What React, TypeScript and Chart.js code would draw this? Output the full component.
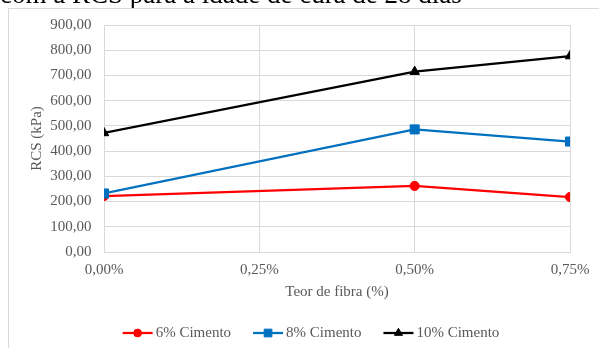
import React, { useEffect, useRef } from "react";
import { Chart, registerables } from "chart.js";
import { drawPoint } from "chart.js/helpers";

Chart.register(...registerables);

// Fibre content (%) and compressive strength (kPa) at 28 days of curing
const fiberContent = [0, 0.5, 0.75];
const xTickValues = [0, 0.25, 0.5, 0.75];
const cement6 = [222, 262, 218];
const cement8 = [232, 486, 438];
const cement10 = [472, 715, 777];
const seriesLabels = ["6% Cimento", "8% Cimento", "10% Cimento"];
const headingText = "com a RCS para a idade de cura de 28 dias";
const xAxisTitle = "Teor de fibra (%)";
const yAxisTitle = "RCS (kPa)";

const SERIF = '"Liberation Serif", "Times New Roman", serif';
const TEXT_GRAY = "#595959";
const GRID_GRAY = "#d9d9d9";

const toPoints = (ys: number[]) => fiberContent.map((x, i) => ({ x, y: ys[i] }));
const comma = (v: number) => v.toFixed(2).replace(".", ",");

// Heading line above the chart box, plus the box outline
const framePlugin = {
  id: "frame",
  beforeDraw(chart: any) {
    const ctx = chart.ctx as CanvasRenderingContext2D;
    ctx.save();
    ctx.fillStyle = "#000000";
    ctx.font = `27px ${SERIF}`;
    ctx.textBaseline = "alphabetic";
    ctx.textAlign = "left";
    ctx.fillText(headingText, 0, 3);
    ctx.strokeStyle = GRID_GRAY;
    ctx.lineWidth = 1;
    ctx.strokeRect(8.5, 8.5, chart.width + 20, chart.height + 20);
    ctx.restore();
  },
};

// Legend entries drawn as a short line with the series marker in the middle
const lineMarkerLegend = {
  id: "lineMarkerLegend",
  afterDraw(chart: any) {
    const ctx = chart.ctx as CanvasRenderingContext2D;
    ctx.save();
    ctx.font = `15px ${SERIF}`;
    const lineLen = 30;
    const textGap = 3;
    const itemGap = 22;
    const items = chart.data.datasets.map((ds: any) => ({
      ds,
      w: lineLen + textGap + ctx.measureText(ds.label).width,
    }));
    const total =
      items.reduce((s: number, it: any) => s + it.w, 0) + itemGap * (items.length - 1);
    let x = 311 - total / 2;
    const y = 333;
    items.forEach(({ ds, w }: any) => {
      ctx.strokeStyle = ds.borderColor;
      ctx.fillStyle = ds.backgroundColor;
      ctx.lineWidth = ds.borderWidth;
      ctx.beginPath();
      ctx.moveTo(x, y);
      ctx.lineTo(x + lineLen, y);
      ctx.stroke();
      ctx.lineWidth = 1;
      drawPoint(
        ctx,
        { pointStyle: ds.pointStyle, radius: ds.pointRadius * 0.85, rotation: 0, borderWidth: 1 } as any,
        x + lineLen / 2,
        y
      );
      ctx.fillStyle = TEXT_GRAY;
      ctx.textBaseline = "middle";
      ctx.textAlign = "left";
      ctx.fillText(ds.label, x + lineLen + textGap, y);
      x += w + itemGap;
    });
    ctx.restore();
  },
};

export default function App() {
  const canvasRef = useRef<HTMLCanvasElement | null>(null);

  useEffect(() => {
    if (!canvasRef.current) return;
    const chart = new Chart(canvasRef.current, {
      type: "line",
      data: {
        datasets: [
          {
            label: seriesLabels[0],
            data: toPoints(cement6),
            borderColor: "#ff0000",
            backgroundColor: "#ff0000",
            borderWidth: 2.25,
            pointStyle: "circle",
            pointRadius: 4.6,
            pointBorderWidth: 1,
            order: 3,
          },
          {
            label: seriesLabels[1],
            data: toPoints(cement8),
            borderColor: "#0070c0",
            backgroundColor: "#0070c0",
            borderWidth: 2.25,
            pointStyle: "rect",
            pointRadius: 6.4,
            pointBorderWidth: 1,
            order: 2,
          },
          {
            label: seriesLabels[2],
            data: toPoints(cement10),
            borderColor: "#000000",
            backgroundColor: "#000000",
            borderWidth: 2.25,
            pointStyle: "triangle",
            pointRadius: 5.5,
            pointBorderWidth: 1,
            order: 1,
          },
        ],
      },
      options: {
        animation: false,
        responsive: false,
        events: [],
        layout: { padding: { left: 0, top: 25, right: 29, bottom: 0 } },
        plugins: {
          legend: { display: false },
          tooltip: { enabled: false },
          title: { display: false },
        },
        scales: {
          x: {
            type: "linear",
            min: 0,
            max: 0.75,
            afterBuildTicks: (scale: any) => {
              scale.ticks = xTickValues.map((value) => ({ value }));
            },
            afterFit: (scale: any) => {
              scale.height = 96;
            },
            ticks: {
              callback: (v: any) => comma(Number(v)) + "%",
              font: { family: SERIF, size: 15 },
              color: TEXT_GRAY,
              padding: 9,
              maxRotation: 0,
            },
            grid: { color: GRID_GRAY, lineWidth: 1, drawTicks: false },
            border: { color: GRID_GRAY },
            title: {
              display: true,
              text: xAxisTitle,
              font: { family: SERIF, size: 15 },
              color: TEXT_GRAY,
              padding: { top: 0, bottom: 47 },
            },
          },
          y: {
            min: 0,
            max: 900,
            afterFit: (scale: any) => {
              scale.width = 104;
            },
            ticks: {
              stepSize: 100,
              callback: (v: any) => comma(Number(v)),
              font: { family: SERIF, size: 15 },
              color: TEXT_GRAY,
              padding: 12.5,
            },
            grid: { color: GRID_GRAY, lineWidth: 1, drawTicks: false },
            border: { color: GRID_GRAY },
            title: {
              display: true,
              text: yAxisTitle,
              font: { family: SERIF, size: 15 },
              color: TEXT_GRAY,
              padding: { top: 27.7, bottom: 0 },
            },
          },
        },
      },
      plugins: [framePlugin, lineMarkerLegend],
    });
    return () => chart.destroy();
  }, []);

  return (
    <div
      style={{
        position: "fixed",
        left: 0,
        top: 0,
        width: 599,
        height: 348,
        background: "#ffffff",
        overflow: "hidden",
      }}
    >
      <canvas ref={canvasRef} width={599} height={348} style={{ display: "block" }} />
    </div>
  );
}
